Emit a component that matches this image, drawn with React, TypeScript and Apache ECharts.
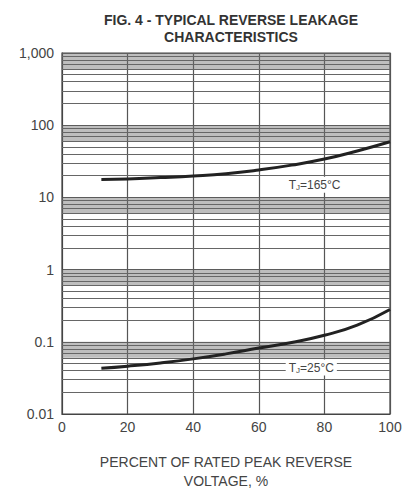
import React, { useEffect, useRef } from "react";
import * as echarts from "echarts";

const percentX = [12, 20, 30, 40, 50, 60, 70, 80, 90, 100];
const leakage165 = [17.7, 18, 18.8, 19.8, 21.3, 24, 28, 34, 44, 59];
const leakage25 = [0.043, 0.046, 0.051, 0.058, 0.068, 0.082, 0.098, 0.123, 0.17, 0.28];
const decades = [0.01, 0.1, 1, 10, 100];
const minorMultipliers = [2, 3, 4, 5, 6, 7, 8, 9];
const yTickLabels: Record<string, string> = {
  "0.01": "0.01",
  "0.1": "0.1",
  "1": "1",
  "10": "10",
  "100": "100",
  "1000": "1,000",
};
const label165 = { x: 77, y: 15, text: "T{s|J}=165°C" };
const label25 = { x: 76, y: 0.044, text: "T{s|J}=25°C" };

const FONT = "Liberation Sans, Arial, sans-serif";

export default function App() {
  const ref = useRef<HTMLDivElement>(null);
  useEffect(() => {
    if (!ref.current) return;
    const chart = echarts.init(ref.current, null, { renderer: "svg" });
    const minorLines: any[] = [];
    decades.forEach((d) =>
      minorMultipliers.forEach((m) => minorLines.push({ yAxis: +(d * m).toPrecision(3) }))
    );
    const bands = decades.map((d) => [{ yAxis: d * 6 }, { yAxis: d * 10 }]);
    const labelStyle = (l: any) => ({
      coord: [l.x, l.y],
      symbol: "rect",
      symbolSize: 1,
      itemStyle: { color: "rgba(0,0,0,0)" },
      label: {
        show: true,
        position: "inside",
        formatter: l.text,
        color: "#444",
        fontFamily: FONT,
        fontSize: 12,
        backgroundColor: "#fff",
        padding: [1, 3],
        rich: { s: { fontSize: 8, verticalAlign: "bottom", padding: [6, 0, 0, 0], color: "#444", fontFamily: FONT } },
      },
    });
    chart.setOption({
      animation: false,
      title: {
        text: "FIG. 4 - TYPICAL REVERSE LEAKAGE\nCHARACTERISTICS",
        left: 226,
        top: 6,
        textAlign: "center",
        textStyle: { fontFamily: FONT, fontSize: 14, fontWeight: "bold", color: "#333", lineHeight: 17 },
      },
      grid: { left: 62, right: 16, top: 53, bottom: 75, show: true, borderColor: "#444", borderWidth: 1.2 },
      xAxis: {
        type: "value",
        min: 0,
        max: 100,
        interval: 20,
        name: "PERCENT OF RATED PEAK REVERSE\nVOLTAGE, %",
        nameLocation: "middle",
        nameGap: 38,
        nameTextStyle: { fontFamily: FONT, fontSize: 14, color: "#444", lineHeight: 19 },
        axisLine: { show: true, lineStyle: { color: "#444" } },
        axisTick: { show: false },
        axisLabel: { fontFamily: FONT, fontSize: 14, color: "#444", margin: 6 },
        splitLine: { show: true, lineStyle: { color: "#555", width: 1.2 } },
      },
      yAxis: {
        type: "log",
        logBase: 10,
        min: 0.01,
        max: 1000,
        axisLine: { show: true, lineStyle: { color: "#444" } },
        axisTick: { show: false },
        axisLabel: {
          fontFamily: FONT,
          fontSize: 14,
          color: "#444",
          margin: 8,
          formatter: (v: number) => yTickLabels[String(+v.toPrecision(3))] ?? "",
        },
        splitLine: { show: true, lineStyle: { color: "#555", width: 1.2 } },
      },
      series: [
        {
          type: "line",
          z: 1,
          silent: true,
          showSymbol: false,
          lineStyle: { width: 0, opacity: 0 },
          data: [[0, 1]],
          markArea: {
            silent: true,
            itemStyle: { color: "rgba(110,110,110,0.45)" },
            data: bands,
          },
          markLine: {
            silent: true,
            symbol: ["none", "none"],
            label: { show: false },
            lineStyle: { color: "#666", width: 1, type: "solid" },
            data: minorLines,
          },
        },
        {
          type: "line",
          z: 5,
          smooth: true,
          showSymbol: false,
          lineStyle: { color: "#222", width: 3 },
          data: percentX.map((x, i) => [x, leakage165[i]]),
          markPoint: { silent: true, data: [labelStyle(label165)] },
        },
        {
          type: "line",
          z: 5,
          smooth: true,
          showSymbol: false,
          lineStyle: { color: "#222", width: 3 },
          data: percentX.map((x, i) => [x, leakage25[i]]),
          markPoint: { silent: true, data: [labelStyle(label25)] },
        },
      ],
    });
    return () => chart.dispose();
  }, []);
  return (
    <div
      ref={ref}
      style={{ position: "fixed", left: 0, top: 0, width: 406, height: 495, background: "#fff" }}
    />
  );
}
